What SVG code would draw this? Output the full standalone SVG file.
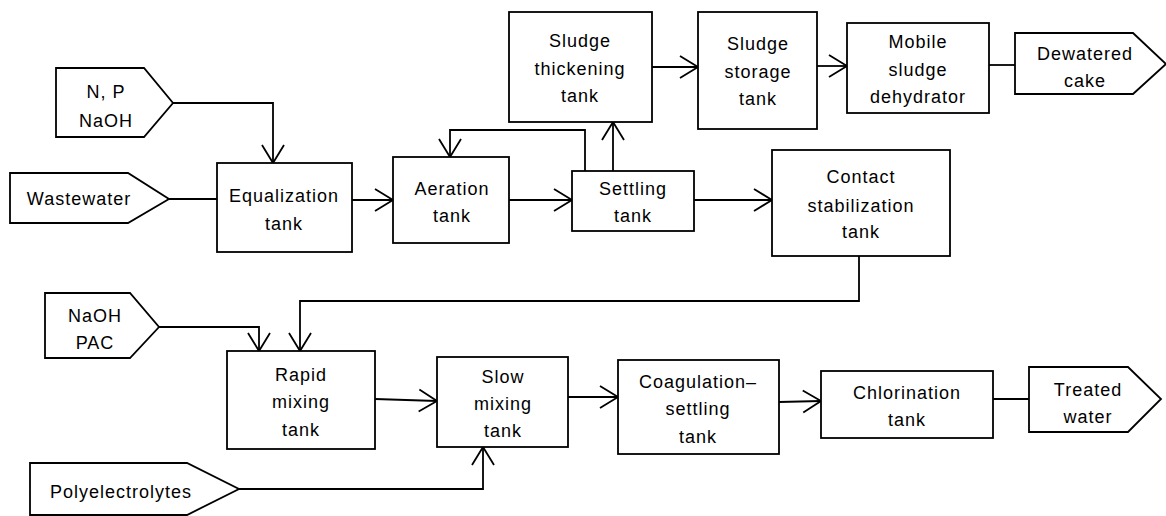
<svg xmlns="http://www.w3.org/2000/svg" width="1166" height="516" viewBox="0 0 1166 516">
  <style>
    .box { fill: #ffffff; stroke: #000000; stroke-width: 1.8; }
    .lbl { font-family: "Liberation Sans", Arial, sans-serif; font-size: 18px; letter-spacing: 1px; fill: #000000; text-anchor: middle; }
    .wire { fill: none; stroke: #000000; stroke-width: 1.8; }
    .flow { fill: none; stroke: #000000; stroke-width: 1.8; marker-end: url(#vhead); }
  </style>
  <defs>
    <marker id="vhead" markerUnits="userSpaceOnUse" viewBox="-20 -12 22 24" markerWidth="22" markerHeight="24" refX="0" refY="0" orient="auto" overflow="visible">
      <path d="M-18,-11 L0,0 L-18,11" fill="none" stroke="#000000" stroke-width="1.8"/>
    </marker>
  </defs>
  <rect width="1166" height="516" fill="#ffffff"/>

  <!-- connectors -->
  <g id="connectors">
    <path class="flow" d="M173,103 H273 V163"/>
    <path class="wire" d="M169,199 H217"/>
    <path class="flow" d="M352,200 H393"/>
    <path class="flow" d="M509,200 H572"/>
    <path class="flow" d="M694,200 H772"/>
    <path class="flow" d="M613,171 V122"/>
    <path class="flow" d="M585,171 V130 H450 V157"/>
    <path class="flow" d="M652,67 H698"/>
    <path class="flow" d="M817,66 H847"/>
    <path class="wire" d="M989,65 H1015"/>
    <path class="flow" d="M859,256 V301 H300 V351"/>
    <path class="flow" d="M159,327 H259 V351"/>
    <path class="flow" d="M375,399 L437,401"/>
    <path class="flow" d="M239,489 H483 V447"/>
    <path class="flow" d="M568,397 H618"/>
    <path class="flow" d="M779,402 L821,401"/>
    <path class="wire" d="M993,399 H1029"/>
  </g>

  <!-- inputs -->
  <g id="in-np-naoh">
    <polygon class="box" points="56,68 144,68 173,103 144,137 56,137"/>
    <text class="lbl" x="106" y="98">N, P</text>
    <text class="lbl" x="106" y="127">NaOH</text>
  </g>
  <g id="in-wastewater">
    <polygon class="box" points="10,173 128,173 169,199 128,223 10,223"/>
    <text class="lbl" x="79" y="205">Wastewater</text>
  </g>
  <g id="in-naoh-pac">
    <polygon class="box" points="45,293 130,293 159,327 130,358 45,358"/>
    <text class="lbl" x="95" y="322">NaOH</text>
    <text class="lbl" x="95" y="349">PAC</text>
  </g>
  <g id="in-polyelectrolytes">
    <polygon class="box" points="30,463 187,463 239,489 187,515 30,515"/>
    <text class="lbl" x="121" y="498">Polyelectrolytes</text>
  </g>

  <!-- treatment units -->
  <g id="equalization">
    <rect class="box" x="217" y="163" width="135" height="89"/>
    <text class="lbl" x="284" y="202">Equalization</text>
    <text class="lbl" x="284" y="230">tank</text>
  </g>
  <g id="aeration">
    <rect class="box" x="393" y="157" width="116" height="86"/>
    <text class="lbl" x="452" y="195">Aeration</text>
    <text class="lbl" x="452" y="222">tank</text>
  </g>
  <g id="settling">
    <rect class="box" x="572" y="171" width="122" height="60"/>
    <text class="lbl" x="633" y="195">Settling</text>
    <text class="lbl" x="633" y="222">tank</text>
  </g>
  <g id="thickening">
    <rect class="box" x="509" y="12" width="143" height="110"/>
    <text class="lbl" x="580" y="47">Sludge</text>
    <text class="lbl" x="580" y="75">thickening</text>
    <text class="lbl" x="580" y="102">tank</text>
  </g>
  <g id="storage">
    <rect class="box" x="698" y="12" width="119" height="117"/>
    <text class="lbl" x="758" y="50">Sludge</text>
    <text class="lbl" x="758" y="78">storage</text>
    <text class="lbl" x="758" y="105">tank</text>
  </g>
  <g id="dehydrator">
    <rect class="box" x="847" y="23" width="142" height="90"/>
    <text class="lbl" x="918" y="48">Mobile</text>
    <text class="lbl" x="918" y="76">sludge</text>
    <text class="lbl" x="918" y="103">dehydrator</text>
  </g>
  <g id="out-cake">
    <polygon class="box" points="1015,33 1133,33 1166,64 1133,94 1015,94"/>
    <text class="lbl" x="1085" y="60">Dewatered</text>
    <text class="lbl" x="1085" y="87">cake</text>
  </g>
  <g id="contact">
    <rect class="box" x="772" y="150" width="178" height="106"/>
    <text class="lbl" x="861" y="183">Contact</text>
    <text class="lbl" x="861" y="212">stabilization</text>
    <text class="lbl" x="861" y="238">tank</text>
  </g>
  <g id="rapid">
    <rect class="box" x="227" y="351" width="148" height="98"/>
    <text class="lbl" x="301" y="381">Rapid</text>
    <text class="lbl" x="301" y="408">mixing</text>
    <text class="lbl" x="301" y="436">tank</text>
  </g>
  <g id="slow">
    <rect class="box" x="437" y="357" width="131" height="90"/>
    <text class="lbl" x="503" y="383">Slow</text>
    <text class="lbl" x="503" y="410">mixing</text>
    <text class="lbl" x="503" y="437">tank</text>
  </g>
  <g id="coagulation">
    <rect class="box" x="618" y="360" width="161" height="94"/>
    <text class="lbl" x="698" y="388">Coagulation–</text>
    <text class="lbl" x="698" y="415">settling</text>
    <text class="lbl" x="698" y="443">tank</text>
  </g>
  <g id="chlorination">
    <rect class="box" x="821" y="371" width="172" height="67"/>
    <text class="lbl" x="907" y="399">Chlorination</text>
    <text class="lbl" x="907" y="426">tank</text>
  </g>
  <g id="out-treated">
    <polygon class="box" points="1029,367 1128,367 1161,399 1128,432 1029,432"/>
    <text class="lbl" x="1088" y="396">Treated</text>
    <text class="lbl" x="1088" y="423">water</text>
  </g>
</svg>
